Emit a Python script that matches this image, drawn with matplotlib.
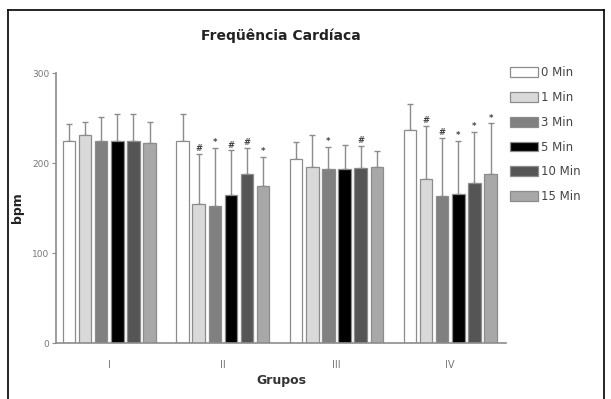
import matplotlib.pyplot as plt
import numpy as np
from matplotlib.lines import Line2D

groups = ["I", "II", "III", "IV"]
series = ["0 Min", "1 Min", "3 Min", "5 Min", "10 Min", "15 Min"]
colors = ["#ffffff", "#d9d9d9", "#808080", "#000000", "#555555", "#a8a8a8"]

# mean heart rate (bpm) per series, one value per group
means = {
    "0 Min": [225, 225, 205, 237],
    "1 Min": [231, 155, 196, 182],
    "3 Min": [225, 152, 193, 163],
    "5 Min": [225, 164, 193, 166],
    "10 Min": [224, 188, 195, 178],
    "15 Min": [222, 175, 196, 188],
}
# top of the error bar (mean + SD)
upper = {
    "0 Min": [243, 255, 223, 266],
    "1 Min": [246, 210, 231, 241],
    "3 Min": [251, 217, 218, 228],
    "5 Min": [255, 214, 220, 225],
    "10 Min": [254, 217, 219, 235],
    "15 Min": [246, 207, 213, 244],
}
# significance marks above error bars
marks = {
    "1 Min": ["", "#", "", "#"],
    "3 Min": ["", "*", "*", "#"],
    "5 Min": ["", "#", "", "*"],
    "10 Min": ["", "#", "#", "*"],
    "15 Min": ["", "*", "", "*"],
}

fig = plt.figure(figsize=(6.11, 3.99), dpi=100)
ax = fig.add_axes([0.092, 0.140, 0.736, 0.677])

x = np.arange(len(groups))
slot = 0.142
width = 0.11
for i, s in enumerate(series):
    pos = x + (i - 2.5) * slot
    m = np.array(means[s])
    err = np.array(upper[s]) - m
    ax.bar(pos, m, width=width, color=colors[i], edgecolor="#8c8c8c",
           linewidth=0.9, label=s, zorder=2)
    ax.errorbar(pos, m, yerr=[np.zeros_like(err), err], fmt="none",
                ecolor="#8c8c8c", elinewidth=1.0, capsize=2.5, capthick=1.0, zorder=1)
    if s in marks:
        for p, top, mk in zip(pos, upper[s], marks[s]):
            if mk:
                ax.text(p, top + 1, mk, ha="center", va="bottom",
                        fontsize=6, color="#444444", fontweight="bold")

ax.set_xlim(-0.466, 3.49)
ax.set_ylim(0, 300)
ax.set_yticks([0, 100, 200, 300])
ax.set_xticks(x)
ax.set_xticklabels(groups)
for side in ["top", "right"]:
    ax.spines[side].set_visible(False)
for side in ["left", "bottom"]:
    ax.spines[side].set_color("#8c8c8c")
    ax.spines[side].set_linewidth(1.2)
ax.tick_params(axis="y", length=3, color="#8c8c8c", labelsize=6.5,
               labelcolor="#777777", pad=2)
ax.tick_params(axis="x", length=0, labelsize=7, labelcolor="#777777", pad=12)

ax.set_xlabel("Grupos", fontsize=9, fontweight="bold", color="#333333", labelpad=3)
ax.set_ylabel("bpm", fontsize=9, fontweight="bold", color="#222222", labelpad=6)
ax.set_title("Freqüência Cardíaca", fontsize=10, fontweight="bold",
             color="#222222", pad=24)

ax.legend(loc="upper left", bbox_to_anchor=(0.985, 1.065), frameon=False,
          fontsize=8.5, handlelength=2.4, handleheight=0.9, handletextpad=0.25,
          labelspacing=1.0, labelcolor="#444444")

# outer frame of the figure
fig.add_artist(Line2D([8 / 611, 8 / 611], [0, 1 - 10 / 399], color="black", lw=1.2))
fig.add_artist(Line2D([8 / 611, 604 / 611], [1 - 10 / 399, 1 - 10 / 399], color="black", lw=1.2))
fig.add_artist(Line2D([604 / 611, 604 / 611], [0, 1 - 10 / 399], color="black", lw=1.2))

fig.savefig("out.png", dpi=100)
